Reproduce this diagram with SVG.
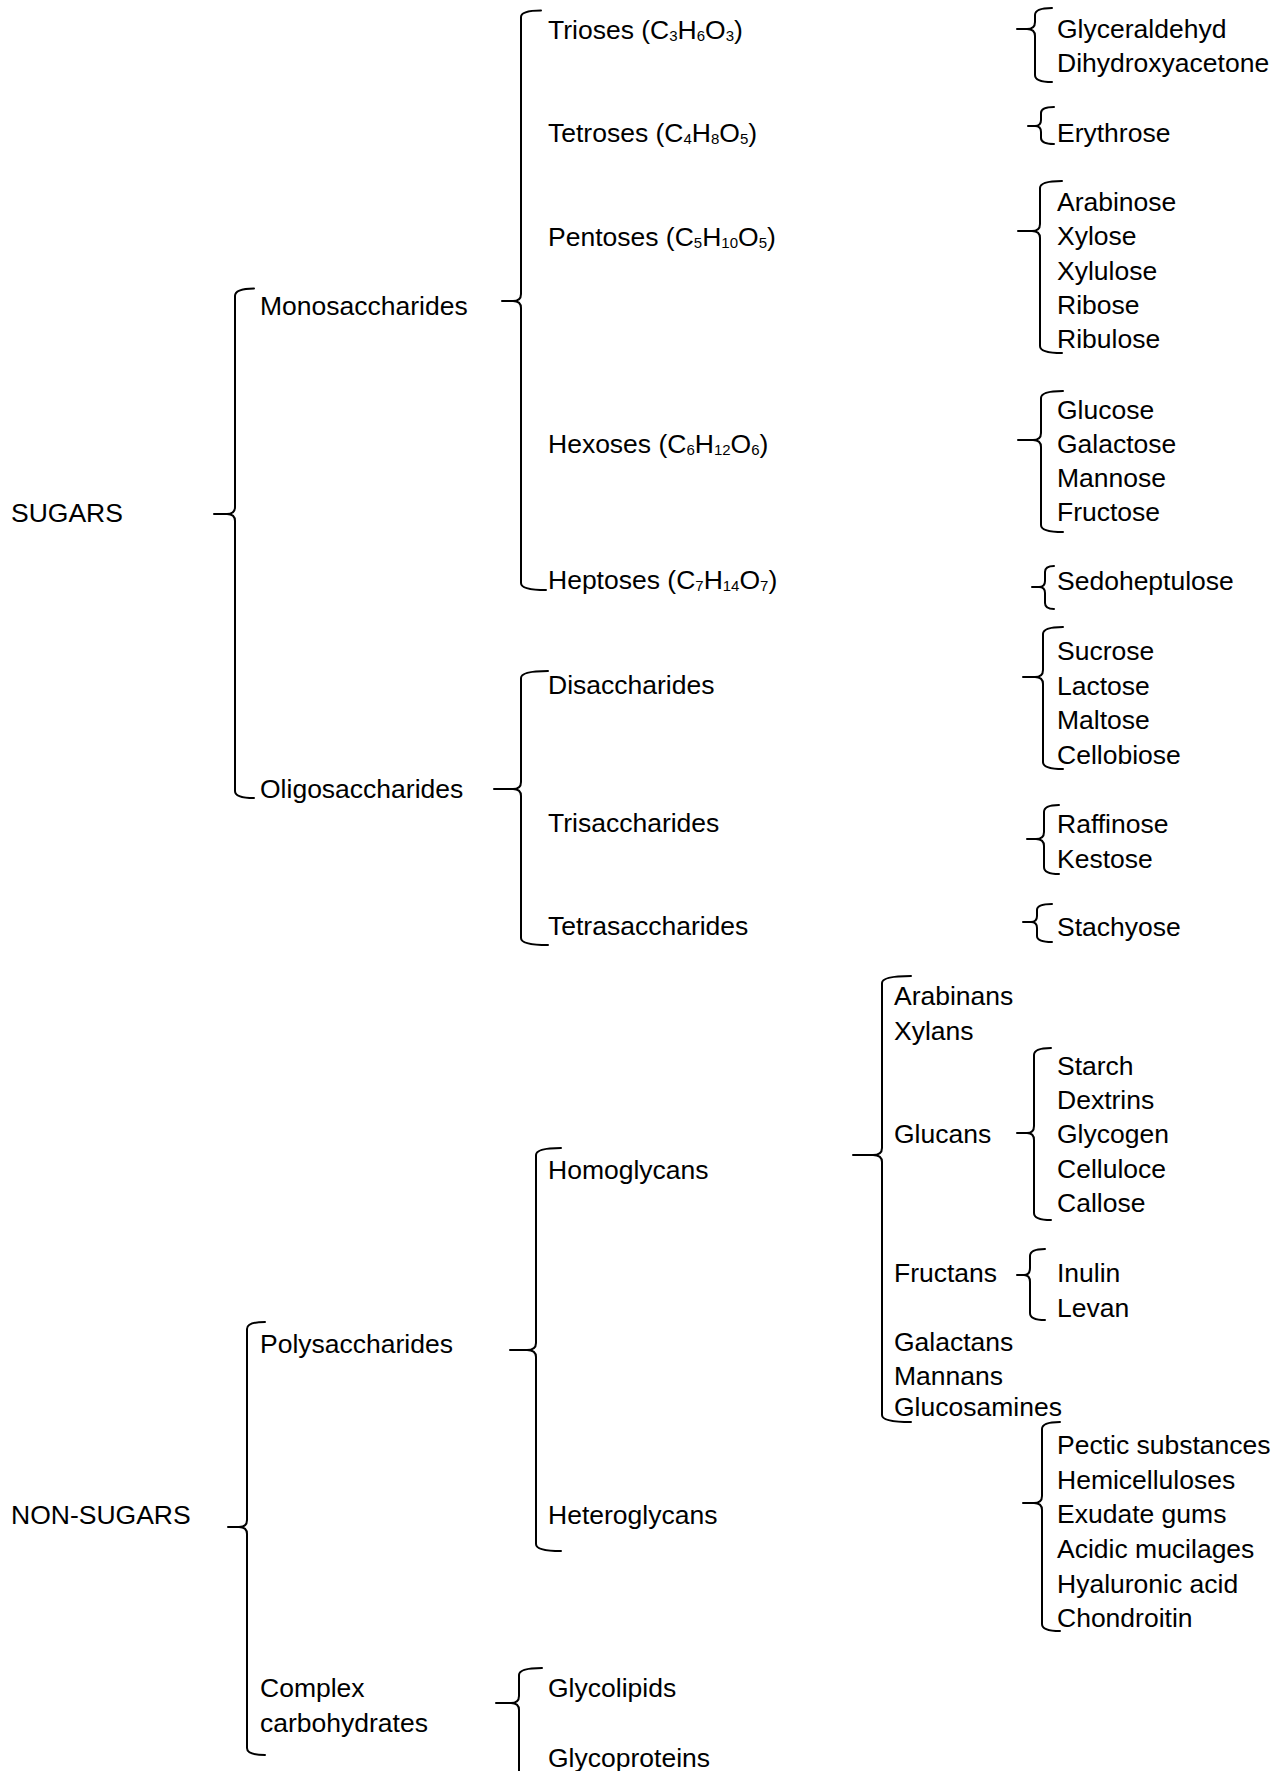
<svg xmlns="http://www.w3.org/2000/svg" width="1286" height="1771" viewBox="0 0 1286 1771">
<style>
text{font-family:"Liberation Sans",Arial,sans-serif;font-size:26.5px;fill:#000}
.s{font-size:15px}
.br{fill:none;stroke:#000;stroke-width:2;stroke-linejoin:round;stroke-linecap:round}
</style>
<rect width="1286" height="1771" fill="#fff"/>
<g id="connectors">
<path class="br" d="M254,288.5 Q235,288.5 235,296 L235,507 Q235,514 227,514 L214,514 L227,514 Q235,514 235,521 L235,791 Q235,798 254,798"/>
<path class="br" d="M541,10.5 Q521,10.5 521,17 L521,294 Q521,301 513,301 L502,301 L513,301 Q521,301 521,308 L521,583 Q521,590 546,590"/>
<path class="br" d="M548,671 Q521,671 521,678 L521,782 Q521,789 513,789 L494,789 L513,789 Q521,789 521,796 L521,938 Q521,945 548,945"/>
<path class="br" d="M1052,8 Q1035,8 1035,15 L1035,22 Q1035,29 1027,29 L1017,29 L1027,29 Q1035,29 1035,36 L1035,75 Q1035,82 1052,82"/>
<path class="br" d="M1054,107 Q1041,107 1041,113 L1041,120 Q1041,126 1035,126 L1028,126 L1035,126 Q1041,126 1041,132 L1041,138 Q1041,144 1054,144"/>
<path class="br" d="M1062,181 Q1040,181 1040,188 L1040,224 Q1040,231 1032,231 L1018,231 L1032,231 Q1040,231 1040,238 L1040,346 Q1040,353 1062,353"/>
<path class="br" d="M1063,391 Q1041,391 1041,398 L1041,433 Q1041,440 1033,440 L1018,440 L1033,440 Q1041,440 1041,447 L1041,525 Q1041,532 1063,532"/>
<path class="br" d="M1054,566 Q1045,566 1045,572 L1045,581 Q1045,587 1039,587 L1032,587 L1039,587 Q1045,587 1045,593 L1045,603 Q1045,609 1054,609"/>
<path class="br" d="M1063,627 Q1043,627 1043,634 L1043,670 Q1043,677 1035,677 L1023,677 L1035,677 Q1043,677 1043,684 L1043,762 Q1043,769 1063,769"/>
<path class="br" d="M1059,805 Q1044,805 1044,812 L1044,832 Q1044,839 1036,839 L1027,839 L1036,839 Q1044,839 1044,846 L1044,867 Q1044,874 1059,874"/>
<path class="br" d="M1052,904 Q1037,904 1037,910 L1037,916 Q1037,922 1031,922 L1023,922 L1031,922 Q1037,922 1037,928 L1037,936 Q1037,942 1052,942"/>
<path class="br" d="M911,976 Q882,976 882,983 L882,1148 Q882,1155 873,1155 L853,1155 L873,1155 Q882,1155 882,1162 L882,1415 Q882,1422 911,1422"/>
<path class="br" d="M1051,1048 Q1034,1048 1034,1055 L1034,1126 Q1034,1133 1027,1133 L1017,1133 L1027,1133 Q1034,1133 1034,1140 L1034,1213 Q1034,1220 1051,1220"/>
<path class="br" d="M1045,1249 Q1030,1249 1030,1256 L1030,1268 Q1030,1275 1024,1275 L1017,1275 L1024,1275 Q1030,1275 1030,1282 L1030,1313 Q1030,1320 1045,1320"/>
<path class="br" d="M1060,1422 Q1042,1422 1042,1429 L1042,1496 Q1042,1503 1034,1503 L1023,1503 L1034,1503 Q1042,1503 1042,1510 L1042,1624 Q1042,1631 1060,1631"/>
<path class="br" d="M561,1148 Q536,1148 536,1155 L536,1343 Q536,1350 527,1350 L510,1350 L527,1350 Q536,1350 536,1357 L536,1544 Q536,1551 561,1551"/>
<path class="br" d="M265,1322 Q247,1322 247,1329 L247,1520 Q247,1527 239,1527 L228,1527 L239,1527 Q247,1527 247,1534 L247,1748 Q247,1755 265,1755"/>
<path class="br" d="M542,1668 Q519,1668 519,1675 L519,1696 Q519,1703 511,1703 L496,1703 L511,1703 Q519,1703 519,1710 L519,1780"/>
</g>
<g id="n-sugars"><text x="11" y="522">SUGARS</text></g>
<g id="n-mono"><text x="260" y="315">Monosaccharides</text></g>
<g id="n-oligo"><text x="260" y="798">Oligosaccharides</text></g>
<g id="n-trioses"><text x="548" y="39">Trioses (C<tspan class="s" dy="2">3</tspan><tspan dy="-2">H</tspan><tspan class="s" dy="2">6</tspan><tspan dy="-2">O</tspan><tspan class="s" dy="2">3</tspan><tspan dy="-2">)</tspan></text></g>
<g id="n-tetroses"><text x="548" y="141.5">Tetroses (C<tspan class="s" dy="2">4</tspan><tspan dy="-2">H</tspan><tspan class="s" dy="2">8</tspan><tspan dy="-2">O</tspan><tspan class="s" dy="2">5</tspan><tspan dy="-2">)</tspan></text></g>
<g id="n-pentoses"><text x="548" y="246">Pentoses (C<tspan class="s" dy="2">5</tspan><tspan dy="-2">H</tspan><tspan class="s" dy="2">10</tspan><tspan dy="-2">O</tspan><tspan class="s" dy="2">5</tspan><tspan dy="-2">)</tspan></text></g>
<g id="n-hexoses"><text x="548" y="452.5">Hexoses (C<tspan class="s" dy="2">6</tspan><tspan dy="-2">H</tspan><tspan class="s" dy="2">12</tspan><tspan dy="-2">O</tspan><tspan class="s" dy="2">6</tspan><tspan dy="-2">)</tspan></text></g>
<g id="n-heptoses"><text x="548" y="589">Heptoses (C<tspan class="s" dy="2">7</tspan><tspan dy="-2">H</tspan><tspan class="s" dy="2">14</tspan><tspan dy="-2">O</tspan><tspan class="s" dy="2">7</tspan><tspan dy="-2">)</tspan></text></g>
<g id="n-disacch"><text x="548" y="694">Disaccharides</text></g>
<g id="n-trisacch"><text x="548" y="832">Trisaccharides</text></g>
<g id="n-tetrasacch"><text x="548" y="935">Tetrasaccharides</text></g>
<g id="n-trioses-list"><text x="1057" y="37.5">Glyceraldehyd</text><text x="1057" y="72">Dihydroxyacetone</text></g>
<g id="n-tetroses-list"><text x="1057" y="141.5">Erythrose</text></g>
<g id="n-pentoses-list"><text x="1057" y="211">Arabinose</text><text x="1057" y="245">Xylose</text><text x="1057" y="280">Xylulose</text><text x="1057" y="314">Ribose</text><text x="1057" y="348">Ribulose</text></g>
<g id="n-hexoses-list"><text x="1057" y="419">Glucose</text><text x="1057" y="453">Galactose</text><text x="1057" y="487">Mannose</text><text x="1057" y="521">Fructose</text></g>
<g id="n-heptoses-list"><text x="1057" y="590">Sedoheptulose</text></g>
<g id="n-disacch-list"><text x="1057" y="660">Sucrose</text><text x="1057" y="694.5">Lactose</text><text x="1057" y="729">Maltose</text><text x="1057" y="764">Cellobiose</text></g>
<g id="n-trisacch-list"><text x="1057" y="833">Raffinose</text><text x="1057" y="868">Kestose</text></g>
<g id="n-tetrasacch-list"><text x="1057" y="936">Stachyose</text></g>
<g id="n-sugars-non"><text x="11" y="1524">NON-SUGARS</text></g>
<g id="n-poly"><text x="260" y="1352.5">Polysaccharides</text></g>
<g id="n-complex"><text x="260" y="1697">Complex</text><text x="260" y="1732">carbohydrates</text></g>
<g id="n-homo"><text x="548" y="1179">Homoglycans</text></g>
<g id="n-hetero"><text x="548" y="1524">Heteroglycans</text></g>
<g id="n-glycolipids"><text x="548" y="1697">Glycolipids</text></g>
<g id="n-glycoproteins"><text x="548" y="1767">Glycoproteins</text></g>
<g id="n-homo-list"><text x="894" y="1005">Arabinans</text><text x="894" y="1040">Xylans</text><text x="894" y="1143">Glucans</text><text x="894" y="1282">Fructans</text><text x="894" y="1351">Galactans</text><text x="894" y="1385">Mannans</text><text x="894" y="1416">Glucosamines</text></g>
<g id="n-glucans-list"><text x="1057" y="1075">Starch</text><text x="1057" y="1109">Dextrins</text><text x="1057" y="1143">Glycogen</text><text x="1057" y="1178">Celluloce</text><text x="1057" y="1212">Callose</text></g>
<g id="n-fructans-list"><text x="1057" y="1282">Inulin</text><text x="1057" y="1317">Levan</text></g>
<g id="n-hetero-list"><text x="1057" y="1454">Pectic substances</text><text x="1057" y="1489">Hemicelluloses</text><text x="1057" y="1523">Exudate gums</text><text x="1057" y="1558">Acidic mucilages</text><text x="1057" y="1593">Hyaluronic acid</text><text x="1057" y="1627">Chondroitin</text></g>
</svg>
